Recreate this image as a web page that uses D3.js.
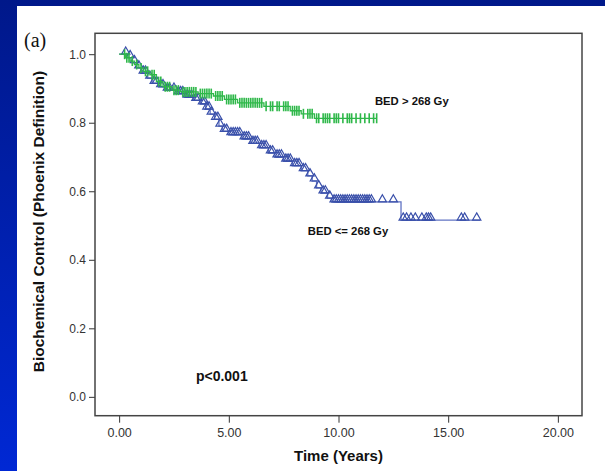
<!DOCTYPE html>
<html><head><meta charset="utf-8">
<script src="https://cdn.jsdelivr.net/npm/d3@7"></script>
<style>html,body{margin:0;padding:0;overflow:hidden;background:#0020b0}</style>
</head><body><svg id="c" width="605" height="471"></svg>
<script>
// ---- data ----
const xTicks = [0, 5, 10, 15, 20];
const yTicks = [0, 0.2, 0.4, 0.6, 0.8, 1.0];
const xLabel = "Time (Years)";
const yLabel = "Biochemical Control (Phoenix Definition)";

// BED > 268 Gy (green) step function
const greenTimes = [0, 0.3, 0.5, 0.7, 0.9, 1.1, 1.4, 1.7, 2.0, 2.4, 2.8, 3.6, 4.3, 4.8, 5.4, 6.6, 7.8, 8.3, 8.9, 11.74];
const greenSurv  = [1.0, 0.99, 0.98, 0.97, 0.96, 0.95, 0.94, 0.92, 0.905, 0.895, 0.89, 0.885, 0.878, 0.868, 0.858, 0.848, 0.835, 0.826, 0.813, 0.813];
const greenCensor = [0.25,0.35,0.45,0.6,0.8,1.0,1.2,1.3,1.5,1.6,1.8,1.9,2.1,2.2,2.3,2.5,2.6,2.7,2.9,3.0,3.1,3.2,3.3,3.4,3.5,3.7,3.8,3.9,4.0,4.1,4.2,4.4,4.5,4.6,4.7,4.9,5.0,5.1,5.2,5.3,5.5,5.6,5.7,5.8,5.9,6.0,6.1,6.2,6.3,6.4,6.5,6.7,6.9,7.0,7.2,7.3,7.5,7.6,7.7,7.9,8.0,8.1,8.2,8.4,8.6,8.7,8.8,9.0,9.1,9.3,9.4,9.5,9.6,9.8,9.9,10.0,10.2,10.4,10.5,10.6,10.8,11.0,11.2,11.4,11.6,11.74];

// BED <= 268 Gy (blue) step function
const blueTimes = [0, 0.4, 0.6, 0.8, 1.0, 1.3, 1.5, 1.8, 2.1, 2.6, 3.0, 3.4, 3.7, 3.95, 4.15, 4.35, 4.55, 4.7, 5.0, 5.6, 6.0, 6.4, 6.8, 7.1, 7.5, 7.9, 8.3, 8.6, 8.8, 9.0, 9.2, 9.5, 9.7, 12.85, 16.45];
const blueSurv  = [1.0, 0.99, 0.975, 0.96, 0.945, 0.93, 0.915, 0.905, 0.895, 0.885, 0.875, 0.865, 0.855, 0.84, 0.825, 0.81, 0.79, 0.775, 0.765, 0.753, 0.74, 0.727, 0.712, 0.70, 0.688, 0.675, 0.66, 0.645, 0.63, 0.61, 0.595, 0.58, 0.569, 0.516, 0.516];
const blueCensor = [0.3,0.5,0.7,0.9,1.1,1.2,1.4,1.6,1.7,1.9,2.0,2.2,2.3,2.5,2.7,2.8,2.9,3.1,3.2,3.3,3.5,3.6,3.8,3.9,4.0,4.1,4.2,4.4,4.5,4.6,4.8,4.9,5.1,5.2,5.3,5.4,5.5,5.7,5.8,5.9,6.1,6.2,6.3,6.5,6.6,6.7,6.9,7.0,7.2,7.3,7.4,7.6,7.7,7.8,8.0,8.1,8.2,8.4,8.5,8.7,8.9,9.1,9.3,9.4,9.6,9.8,9.9,10.0,10.1,10.2,10.3,10.4,10.5,10.6,10.7,10.8,10.9,11.0,11.1,11.2,11.3,11.4,11.5,12.0,12.5,12.95,13.1,13.3,13.5,13.8,14.0,14.1,14.2,15.6,15.75,16.3];

const annotations = [
  {text: "BED > 268 Gy", t: 11.66, s: 0.853},
  {text: "BED <= 268 Gy", t: 8.6, s: 0.473}
];
const pText = "p<0.001";

// ---- drawing ----
const svg = d3.select("#c");
const defs = svg.append("defs");
const g = defs.append("linearGradient").attr("id","bg").attr("x1",0).attr("y1",0).attr("x2",0).attr("y2",1);
g.append("stop").attr("offset","0%").attr("stop-color","#00188a");
g.append("stop").attr("offset","100%").attr("stop-color","#0028d4");
svg.append("rect").attr("width",605).attr("height",471).attr("fill","url(#bg)");
svg.append("rect").attr("x",17).attr("y",6).attr("width",588).attr("height",465).attr("fill","#ffffff");

const x = d3.scaleLinear().domain([-1.1, 21.1]).range([95, 582]);
const y = d3.scaleLinear().domain([-0.055, 1.061]).range([415.7, 33.3]);

const font = "'Liberation Sans', Arial, sans-serif";

// axes
const ax = svg.append("g").attr("transform", `translate(0,${y.range()[0]})`)
  .call(d3.axisBottom(x).tickValues(xTicks).tickFormat(d3.format(".2f")).tickSize(7).tickPadding(5));
ax.select(".domain").remove();
ax.selectAll("line").attr("stroke","#333");
ax.selectAll("text").attr("font-family",font).attr("font-size",12.5).attr("fill","#333");

const ay = svg.append("g").attr("transform", `translate(${x.range()[0]},0)`)
  .call(d3.axisLeft(y).tickValues(yTicks).tickFormat(d3.format(".1f")).tickSize(6).tickPadding(3));
ay.select(".domain").remove();
ay.selectAll("line").attr("stroke","#333");
ay.selectAll("text").attr("font-family",font).attr("font-size",12).attr("fill","#333");

// box
svg.append("rect").attr("x",x.range()[0]).attr("y",y.range()[1])
  .attr("width",x.range()[1]-x.range()[0]).attr("height",y.range()[0]-y.range()[1])
  .attr("fill","none").attr("stroke","#444").attr("stroke-width",1.5);

function stepAt(times, surv, t){
  let v = surv[0];
  for (let i=0;i<times.length;i++){ if (times[i] <= t) v = surv[i]; }
  return v;
}
const line = d3.line().x(d=>x(d[0])).y(d=>y(d[1])).curve(d3.curveStepAfter);

// blue curve
const bluePts = blueTimes.map((t,i)=>[t, blueSurv[i]]);
svg.append("path").attr("d", line(bluePts)).attr("fill","none").attr("stroke","#6274c4").attr("stroke-width",1.3);
const tri = d3.symbol(d3.symbolTriangle).size(30);
svg.append("g").selectAll("path").data(blueCensor).join("path")
  .attr("d", tri)
  .attr("transform", d=>`translate(${x(d)},${y(stepAt(blueTimes,blueSurv,d))-2.4})`)
  .attr("fill","none").attr("stroke","#3a50aa").attr("stroke-width",1.2);

// green curve
const greenPts = greenTimes.map((t,i)=>[t, greenSurv[i]]);
svg.append("path").attr("d", line(greenPts)).attr("fill","none").attr("stroke","#2fb84a").attr("stroke-width",1.3);
svg.append("g").selectAll("line").data(greenCensor).join("line")
  .attr("x1", d=>x(d)).attr("x2", d=>x(d))
  .attr("y1", d=>y(stepAt(greenTimes,greenSurv,d))-5)
  .attr("y2", d=>y(stepAt(greenTimes,greenSurv,d))+5)
  .attr("stroke","#2fb84a").attr("stroke-width",1.6);

// annotations
svg.append("g").selectAll("text").data(annotations).join("text")
  .attr("x", d=>x(d.t)).attr("y", d=>y(d.s))
  .attr("font-family",font).attr("font-weight","bold").attr("font-size",11.3).attr("fill","#111")
  .text(d=>d.text);
svg.append("text").attr("x", x(3.5)).attr("y", y(0.045))
  .attr("font-family",font).attr("font-weight","bold").attr("font-size",14).attr("fill","#111")
  .text(pText);

// axis titles
svg.append("text").attr("x",(x(0)+x(20))/2).attr("y",461).attr("text-anchor","middle")
  .attr("font-family",font).attr("font-weight","bold").attr("font-size",15).attr("fill","#111").text(xLabel);
svg.append("text").attr("transform",`translate(44,${(y(0)+y(1))/2-4}) rotate(-90)`).attr("text-anchor","middle")
  .attr("font-family",font).attr("font-weight","bold").attr("font-size",15.5).attr("fill","#111").text(yLabel);

// panel label
svg.append("text").attr("x",24).attr("y",47)
  .attr("font-family","'Liberation Serif', 'Times New Roman', serif").attr("font-size",20).attr("fill","#111").text("(a)");
</script></body></html>
